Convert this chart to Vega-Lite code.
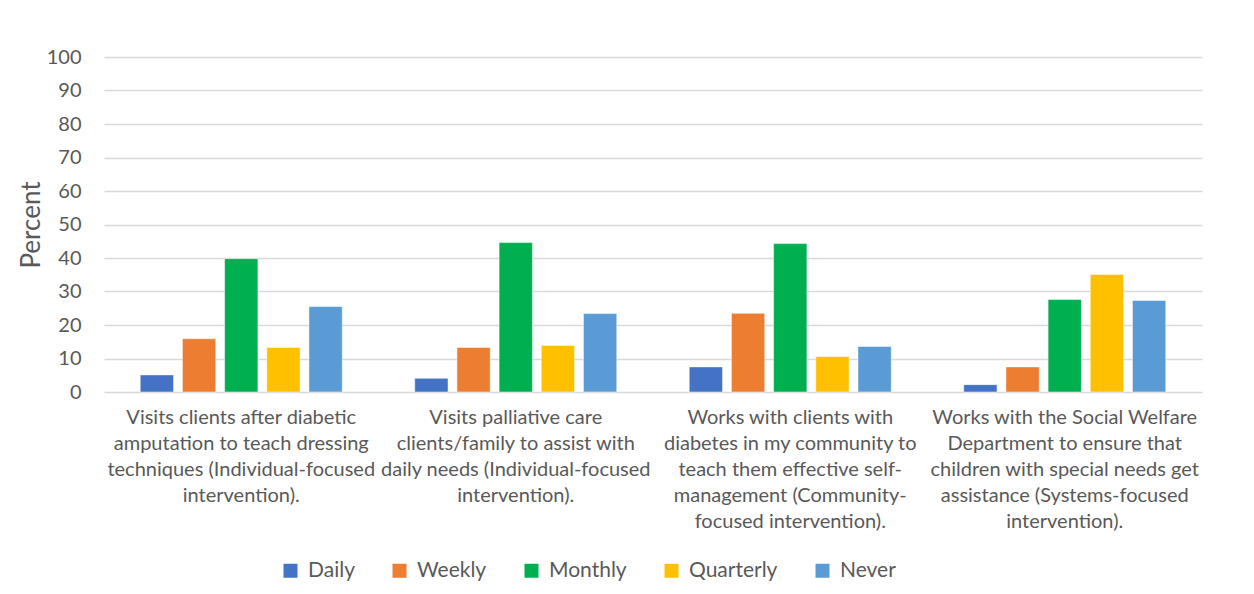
{
  "$schema": "https://vega.github.io/schema/vega-lite/v6.json",
  "width": 1098,
  "height": 335,
  "autosize": {"type": "none"},
  "padding": {"left": 104, "top": 57, "right": 52, "bottom": 202},
  "background": "white",
  "config": {
    "font": "Lato",
    "view": {"stroke": null}
  },
  "data": {
    "values": [
      {"task": "Visits clients after diabetic|amputation to teach dressing|techniques (Individual-focused|intervention).", "frequency": "Daily", "percent": 5.1},
      {"task": "Visits clients after diabetic|amputation to teach dressing|techniques (Individual-focused|intervention).", "frequency": "Weekly", "percent": 15.9},
      {"task": "Visits clients after diabetic|amputation to teach dressing|techniques (Individual-focused|intervention).", "frequency": "Monthly", "percent": 39.8},
      {"task": "Visits clients after diabetic|amputation to teach dressing|techniques (Individual-focused|intervention).", "frequency": "Quarterly", "percent": 13.3},
      {"task": "Visits clients after diabetic|amputation to teach dressing|techniques (Individual-focused|intervention).", "frequency": "Never", "percent": 25.5},
      {"task": "Visits palliative care|clients/family to assist with|daily needs (Individual-focused|intervention).", "frequency": "Daily", "percent": 4.1},
      {"task": "Visits palliative care|clients/family to assist with|daily needs (Individual-focused|intervention).", "frequency": "Weekly", "percent": 13.3},
      {"task": "Visits palliative care|clients/family to assist with|daily needs (Individual-focused|intervention).", "frequency": "Monthly", "percent": 44.6},
      {"task": "Visits palliative care|clients/family to assist with|daily needs (Individual-focused|intervention).", "frequency": "Quarterly", "percent": 13.9},
      {"task": "Visits palliative care|clients/family to assist with|daily needs (Individual-focused|intervention).", "frequency": "Never", "percent": 23.4},
      {"task": "Works with clients with|diabetes in my community to|teach them effective self-|management (Community-|focused intervention).", "frequency": "Daily", "percent": 7.5},
      {"task": "Works with clients with|diabetes in my community to|teach them effective self-|management (Community-|focused intervention).", "frequency": "Weekly", "percent": 23.5},
      {"task": "Works with clients with|diabetes in my community to|teach them effective self-|management (Community-|focused intervention).", "frequency": "Monthly", "percent": 44.3},
      {"task": "Works with clients with|diabetes in my community to|teach them effective self-|management (Community-|focused intervention).", "frequency": "Quarterly", "percent": 10.6},
      {"task": "Works with clients with|diabetes in my community to|teach them effective self-|management (Community-|focused intervention).", "frequency": "Never", "percent": 13.6},
      {"task": "Works with the Social Welfare|Department to ensure that|children with special needs get|assistance (Systems-focused|intervention).", "frequency": "Daily", "percent": 2.2},
      {"task": "Works with the Social Welfare|Department to ensure that|children with special needs get|assistance (Systems-focused|intervention).", "frequency": "Weekly", "percent": 7.5},
      {"task": "Works with the Social Welfare|Department to ensure that|children with special needs get|assistance (Systems-focused|intervention).", "frequency": "Monthly", "percent": 27.6},
      {"task": "Works with the Social Welfare|Department to ensure that|children with special needs get|assistance (Systems-focused|intervention).", "frequency": "Quarterly", "percent": 35.1},
      {"task": "Works with the Social Welfare|Department to ensure that|children with special needs get|assistance (Systems-focused|intervention).", "frequency": "Never", "percent": 27.3}
    ]
  },
  "mark": {"type": "bar", "stroke": "white", "strokeWidth": 1, "strokeOpacity": 0.5},
  "encoding": {
    "x": {
      "field": "task",
      "type": "nominal",
      "sort": null,
      "scale": {"paddingInner": 0.264, "paddingOuter": 0.132},
      "axis": {
        "title": null,
        "labelAngle": 0,
        "labelExpr": "split(datum.value, '|')",
        "labelFontSize": 20,
        "labelLineHeight": 26,
        "labelColor": "#595959",
        "labelPadding": 15,
        "labelLimit": 0,
        "domain": false,
        "ticks": false
      }
    },
    "xOffset": {
      "field": "frequency",
      "type": "nominal",
      "sort": ["Daily", "Weekly", "Monthly", "Quarterly", "Never"],
      "scale": {"paddingInner": 0.21, "paddingOuter": 0}
    },
    "y": {
      "field": "percent",
      "type": "quantitative",
      "scale": {"domain": [0, 100], "nice": false},
      "axis": {
        "title": "Percent",
        "values": [0, 10, 20, 30, 40, 50, 60, 70, 80, 90, 100],
        "domain": false,
        "ticks": false,
        "gridColor": "#d9d9d9",
        "gridWidth": 1.5,
        "labelFontSize": 20,
        "labelColor": "#595959",
        "labelPadding": 23,
        "titleFontSize": 26,
        "titleFontWeight": "normal",
        "titleColor": "#595959",
        "titlePadding": 2
      }
    },
    "color": {
      "field": "frequency",
      "type": "nominal",
      "scale": {
        "domain": ["Daily", "Weekly", "Monthly", "Quarterly", "Never"],
        "range": ["#4472C4", "#ED7D31", "#00B050", "#FFC000", "#5B9BD5"]
      },
      "legend": {
        "title": null,
        "orient": "none",
        "direction": "horizontal",
        "legendX": 176,
        "legendY": 503,
        "symbolType": "square",
        "symbolSize": 196,
        "symbolStrokeWidth": 0,
        "labelFontSize": 21,
        "labelColor": "#595959",
        "labelOffset": 7,
        "columnPadding": 34
      }
    }
  }
}
